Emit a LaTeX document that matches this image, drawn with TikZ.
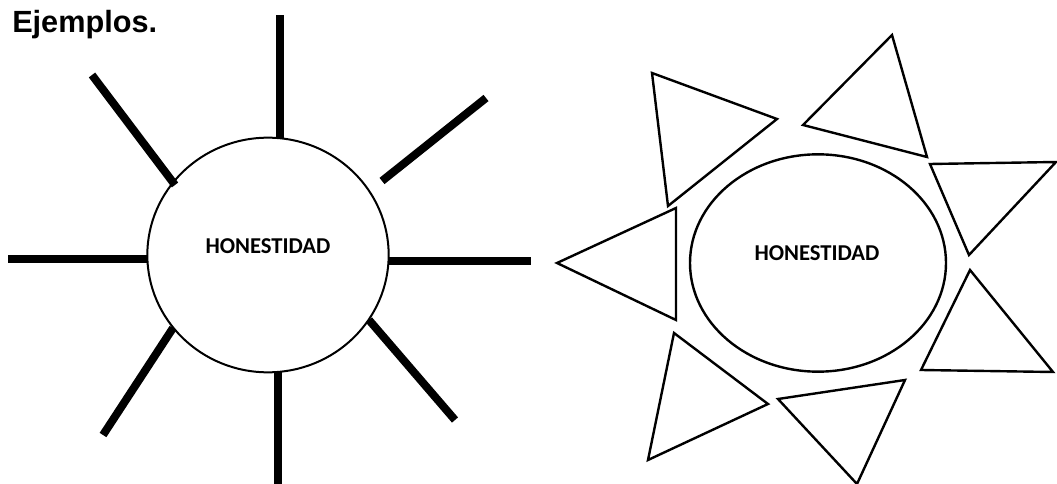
\documentclass[tikz,border=0pt]{standalone}
\usepackage{fontspec}
\setmainfont{Liberation Sans}
\newfontfamily\calibrifont{Carlito}
\usetikzlibrary{shapes.geometric}
\tikzset{
  ray/.style={line width=6pt},
  spike/.style={draw, line width=1.8pt, line join=miter},
  core/.style={draw, ellipse, inner sep=0pt, font=\calibrifont\bfseries\fontsize{17pt}{20pt}\selectfont}
}
\begin{document}
\begin{tikzpicture}[x=0.75pt, y=-0.75pt]
  \useasboundingbox (0,0) rectangle (1057,484);
  % Title
  \node[anchor=base west, inner sep=0pt, font=\bfseries\fontsize{23pt}{27pt}\selectfont] (title) at (12,33) {Ejemplos.};
  % Left sun: circle with straight rays
  \node[core, line width=1.5pt, minimum width=181pt, minimum height=176pt] (sunA) at (268,255) {};
  \node[font=\calibrifont\bfseries\fontsize{17pt}{20pt}\selectfont] (textA) at (268,246) {HONESTIDAD};
  \foreach \xa/\ya/\xb/\yb in {280/138/280/15, 382/181/486/98, 388/261/531/261,
      369/320/455/420, 278/372/278/484, 173/328/103/435, 147/259/8/259, 175/185/92/75}
    \draw[ray] (\xa,\ya) -- (\xb,\yb);
  % Right sun: ellipse with triangles
  \node[core, line width=1.8pt, minimum width=192pt, minimum height=163pt] (sunB) at (818,263) {};
  \node[font=\calibrifont\bfseries\fontsize{17pt}{20pt}\selectfont] (textB) at (817,253) {HONESTIDAD};
  \foreach \ax/\ay/\bx/\by/\cx/\cy in {652/73/777/119/668/206, 892/35/927/157/803/125,
      930/164/1056/162/969/255, 557/263/676/208/676/320, 970/270/1053/372/921/370,
      674/333/768/404/648/460, 778/399/905/380/857/484}
    \draw[spike] (\ax,\ay) -- (\bx,\by) -- (\cx,\cy) -- cycle;
\end{tikzpicture}
\end{document}
